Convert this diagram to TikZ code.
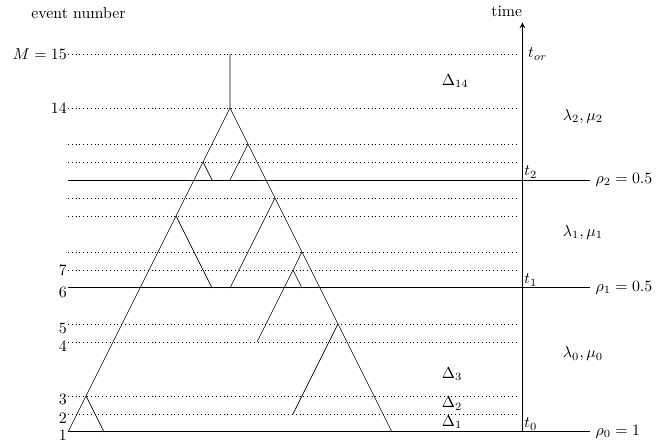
\documentclass[tikz,border=0pt]{standalone}
\usetikzlibrary{arrows}

\tikzset{
  evlabel/.style={anchor=east, inner sep=0.6pt},
  tlabel/.style={anchor=south west, inner sep=1pt},
  deltalabel/.style={anchor=west, inner sep=0pt},
  sampline/.style={semithick}
}

\begin{document}
\begin{tikzpicture}[x=0.4cm, y=0.4cm, >=stealth]
        \useasboundingbox (-3.78,-0.556) rectangle (33.17,24);

        % Draw the event levels (dotted)
        \foreach \lev in {1,2,5,6,9,10,12,13,15,16,18,21}
            \draw[dotted] (0,\lev) -- (25,\lev);

        % Draw the sampling times t0, t1, t2
        \draw[sampline] (0,0) -- (29,0) node[right] (rho0) {$\rho_0 = 1$};
        \draw[sampline] (0,8) -- (29,8) node[right] (rho1) {$\rho_1 = 0.5$};
        \draw[sampline] (0,14) -- (29,14) node[right] (rho2) {$\rho_2 = 0.5$};

        % Draw the time axis
        \coordinate (t0) at (25.25,0);
        \coordinate (tip) at (25.25,22.75);
        \draw[->, sampline] (t0) -- (tip);
        \node[anchor=south east, inner xsep=0pt] (timelbl) at (tip) {time};
        \node (evlbl) at (0.58,23.28) {event number};

        % Label the event numbers
        \node[evlabel] (ev15) at (0,21) {$M = 15$};
        \node[evlabel] (ev14) at (0,18) {14};
        \node[evlabel] (ev7) at (0,9) {7};
        \node[evlabel, yshift=-2.5pt] (ev6) at (0,8) {6};
        \node[evlabel, yshift=-2.5pt] (ev5) at (0,6) {5};
        \node[evlabel, yshift=-2.5pt] (ev4) at (0,5) {4};
        \node[evlabel, yshift=-2.5pt] (ev3) at (0,2) {3};
        \node[evlabel, yshift=-2.5pt] (ev2) at (0,1) {2};
        \node[evlabel, yshift=-2pt] (ev1) at (0,0) {1};

        % Label the times on the axis
        \node[right] (tor) at (25.25,21) {$t_{or}$};
        \node[tlabel] (tt2) at (25.25,14) {$t_2$};
        \node[tlabel] (tt1) at (25.25,8) {$t_1$};
        \node[tlabel] (tt0) at (25.25,0) {$t_0$};

        % Rates per interval
        \node (rate2) at (28.61,17.52) {$\lambda_2, \mu_2$};
        \node (rate1) at (28.61,11.08) {$\lambda_1, \mu_1$};
        \node (rate0) at (28.61,4.33) {$\lambda_0, \mu_0$};

        % Interval lengths
        \node[deltalabel] (d14) at (20.76,19.5) {$\Delta_{14}$};
        \node[deltalabel] (d3) at (20.76,3.22) {$\Delta_3$};
        \node[deltalabel] (d2) at (20.76,1.57) {$\Delta_2$};
        \node[deltalabel] (d1) at (20.76,0.55) {$\Delta_1$};

        % Draw the tree
        \coordinate (root) at (9,21);
        \coordinate (top) at (9,18);
        \coordinate (footL) at (0,0);
        \coordinate (footR) at (18,0);
        \draw (root) -- (top) -- (footL);
        \draw (top) -- (footR);

        % Branches off the tree
        \coordinate (b15) at (7.5,15);
        \coordinate (b16) at (10,16);
        \coordinate (b13) at (11.5,13);
        \coordinate (b12) at (6,12);
        \coordinate (b10) at (13,10);
        \coordinate (b9) at (12.5,9);
        \coordinate (b6) at (15,6);
        \coordinate (b2) at (1,2);
        \draw (b15) -- (8,14);
        \draw (b16) -- (9,14);
        \draw (b13) -- (9,8);
        \draw (b12) -- (8,8);
        \draw (b10) -- (10.5,5);
        \draw (b9) -- (13,8);
        \draw (b6) -- (12.5,1);
        \draw (b2) -- (2,0);
    \end{tikzpicture}
\end{document}
